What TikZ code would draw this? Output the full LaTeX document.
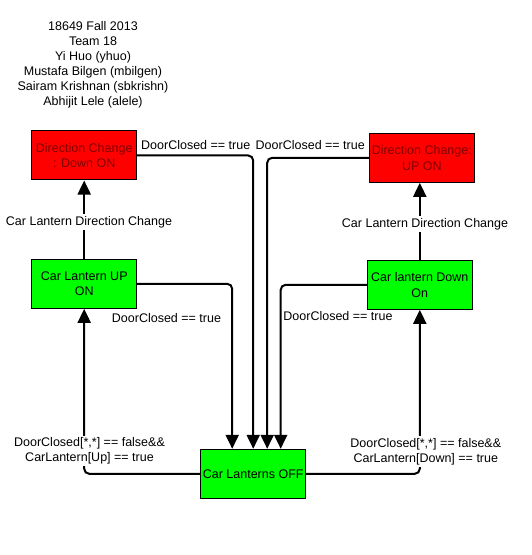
\documentclass[tikz,border=0pt]{standalone}
\usepackage{fontspec}
\setmainfont{Liberation Sans}
\usetikzlibrary{calc,arrows.meta}
\definecolor{bg}{HTML}{FFFFFF}
\definecolor{redfill}{HTML}{FF0000}
\definecolor{greenfill}{HTML}{00FF00}
\definecolor{redtext}{HTML}{800000}
\definecolor{ink}{HTML}{000000}
\tikzset{
  state/.style={draw=ink, line width=1bp, minimum width=105bp, minimum height=49bp, align=center, inner sep=1bp, font=\fontsize{12.5bp}{15.5bp}\selectfont},
  redstate/.style={state, fill=redfill, text=redtext},
  greenstate/.style={state, fill=greenfill, text=ink},
  conn/.style={draw=ink, line width=2bp, rounded corners=5bp, -{Triangle[length=14bp,width=13bp]}},
  lab/.style={text=ink, font=\fontsize{12.5bp}{15bp}\selectfont, inner sep=0pt},
  tag/.style={lab, fill=bg, align=center, inner sep=2bp},
}
\begin{document}
\begin{tikzpicture}[x=1bp,y=-1bp]
  \useasboundingbox[fill=bg] (0,0) rectangle (532,555);
  % states
  \node[redstate] (dcdown) at (84.2,155.5) {Direction Change\\: Down ON};
  \node[redstate] (dcup) at (421.8,157.8) {Direction Change:\\UP ON};
  \node[greenstate] (clup) at (84.2,283.8) {Car Lantern UP\\ON};
  \node[greenstate] (cldown) at (419.8,284.8) {Car lantern Down\\On};
  \node[greenstate] (off) at (253.2,473.8) {Car Lanterns OFF};
  \node[lab, align=center] (title) at (93,65) {18649 Fall 2013\\Team 18\\Yi Huo (yhuo)\\Mustafa Bilgen (mbilgen)\\Sairam Krishnan (sbkrishn)\\Abhijit Lele (alele)};
  % transitions into OFF
  \draw[conn] (dcdown.east) -| (off.north);
  \draw[conn] (dcup.west) -| ($(off.north)+(14,0)$);
  \draw[conn] (clup.east) -| ($(off.north)+(-21,0)$);
  \draw[conn] (cldown.west) -| ($(off.north)+(27.5,0)$);
  % transitions out of OFF
  \draw[conn] (off.west) -| (clup.south);
  \draw[conn] (off.east) -| (cldown.south);
  \draw[conn] (clup.north) -- (dcdown.south);
  \draw[conn] (cldown.north) -- (cldown.north |- dcup.south);
  % labels
  \node[lab, anchor=west] (dcdownlab) at (141,145) {DoorClosed == true};
  \node[lab, anchor=east] (dcuplab) at (365,145) {DoorClosed == true};
  \node[lab] (cluplab) at (166.5,317.7) {DoorClosed == true};
  \node[lab] (cldownlab) at (338,315.7) {DoorClosed == true};
  \node[tag] (leftchg) at (89,222.3) {Car Lantern Direction Change};
  \node[tag] (rightchg) at (425,224) {Car Lantern Direction Change};
  \node[tag] (upcond) at (89.5,451) {DoorClosed[*,*] == false\&\&\\CarLantern[Up] == true};
  \node[tag] (downcond) at (425.8,451.5) {DoorClosed[*,*] == false\&\&\\CarLantern[Down] == true};
\end{tikzpicture}
\end{document}
